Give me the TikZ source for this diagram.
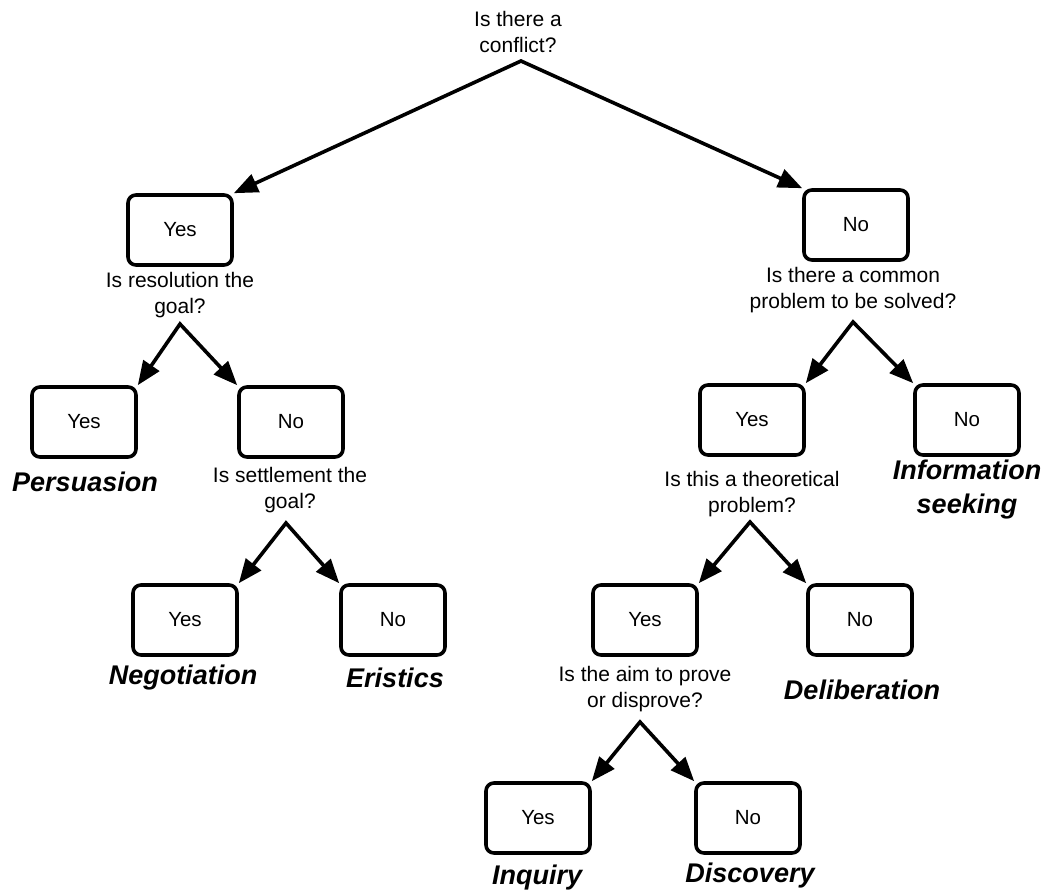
\documentclass[tikz,border=0pt]{standalone}
\usepackage{fontspec}
\setmainfont{Liberation Sans}
\usetikzlibrary{arrows.meta}
\tikzset{
  ansbox/.style={draw, line width=3.6pt, rounded corners=8pt, minimum width=104pt, minimum height=70pt, inner sep=0pt, font=\fontsize{20.5}{24}\selectfont},
  qtext/.style={align=center, inner sep=0pt, font=\fontsize{21}{26}\selectfont},
  result/.style={align=center, inner sep=0pt, font=\fontsize{27}{34}\selectfont\bfseries\itshape},
  branch/.style={line width=3.6pt, miter limit=10, {Triangle[length=24pt,width=19pt]}-{Triangle[length=24pt,width=19pt]}}
}
\begin{document}
\begin{tikzpicture}[x=1pt,y=-1pt]
\useasboundingbox (0,0) rectangle (1047,896);
% root
\node[qtext] (q0) at (518,32) {Is there a\\conflict?};
\coordinate (a0) at (521,61);
\node[ansbox] (yA) at (180,230) {Yes};
\node[ansbox] (nA) at (856,225) {No};
\draw[branch] (yA.north east) -- (a0) -- (nA.north west);
% left branch
\node[qtext] (qA) at (180,295) {Is resolution the\\goal?};
\coordinate (aA) at (180,324);
\node[ansbox] (yP) at (84,422) {Yes};
\node[ansbox] (nP) at (291,422) {No};
\draw[branch] (yP.north east) -- (aA) -- (nP.north west);
\node[result] (persuasion) at (85,482) {Persuasion};
\node[qtext] (qS) at (290,490) {Is settlement the\\goal?};
\coordinate (aS) at (286,523);
\node[ansbox] (yN) at (185,620) {Yes};
\node[ansbox] (nE) at (393,620) {No};
\draw[branch] (yN.north east) -- (aS) -- (nE.north west);
\node[result] (negotiation) at (183,678) {Negotiation};
\node[result] (eristics) at (395,678) {Eristics};
% right branch
\node[qtext] (qB) at (853,290) {Is there a common\\problem to be solved?};
\coordinate (aB) at (853,322);
\node[ansbox] (yT) at (752,420) {Yes};
\node[ansbox] (nI) at (967,420) {No};
\draw[branch] (yT.north east) -- (aB) -- (nI.north west);
\node[result] (info) at (967,490) {Information\\seeking};
\node[qtext] (qT) at (752,494) {Is this a theoretical\\problem?};
\coordinate (aT) at (750,522);
\node[ansbox] (yD) at (645,620) {Yes};
\node[ansbox] (nD) at (860,620) {No};
\draw[branch] (yD.north east) -- (aT) -- (nD.north west);
\node[result] (deliberation) at (862,690) {Deliberation};
\node[qtext] (qR) at (645,689) {Is the aim to prove\\or disprove?};
\coordinate (aR) at (640,722);
\node[ansbox] (yI) at (538,818) {Yes};
\node[ansbox] (nV) at (748,818) {No};
\draw[branch] (yI.north east) -- (aR) -- (nV.north west);
\node[result] (inquiry) at (537,878) {Inquiry};
\node[result] (discovery) at (750,876) {Discovery};
\end{tikzpicture}
\end{document}
